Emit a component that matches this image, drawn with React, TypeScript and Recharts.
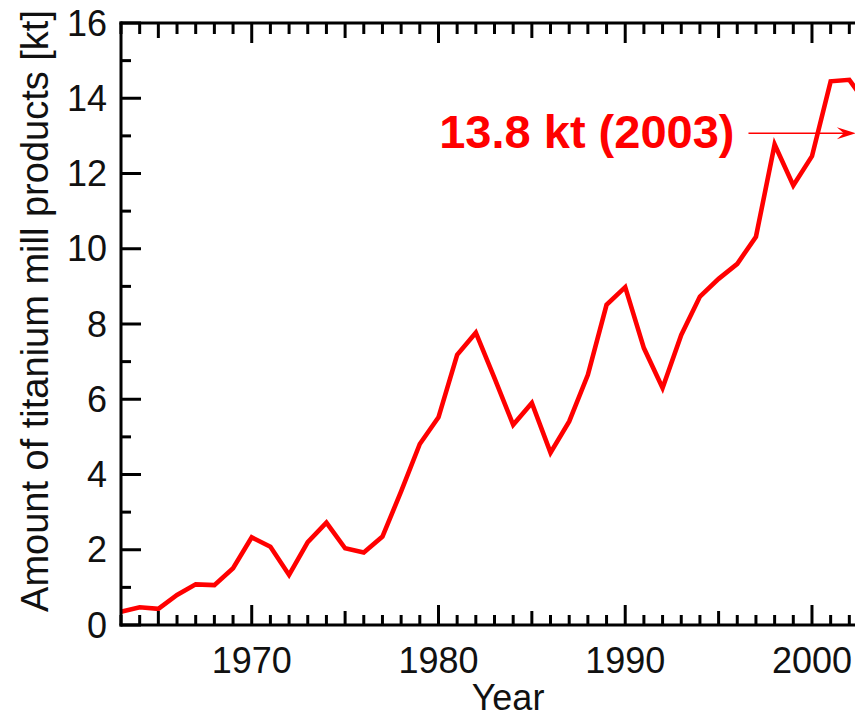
import React from 'react';
import { LineChart, Line, XAxis, YAxis, ReferenceLine, Label } from 'recharts';

// Titanium mill products, thousand tonnes per year
const years = [
  1963, 1964, 1965, 1966, 1967, 1968, 1969, 1970, 1971, 1972,
  1973, 1974, 1975, 1976, 1977, 1978, 1979, 1980, 1981, 1982,
  1983, 1984, 1985, 1986, 1987, 1988, 1989, 1990, 1991, 1992,
  1993, 1994, 1995, 1996, 1997, 1998, 1999, 2000, 2001, 2002, 2003,
];
const amounts = [
  0.35, 0.47, 0.43, 0.8, 1.08, 1.06, 1.51, 2.33, 2.08, 1.33,
  2.2, 2.72, 2.04, 1.93, 2.35, 3.55, 4.81, 5.52, 7.18, 7.77,
  6.56, 5.32, 5.9, 4.58, 5.41, 6.65, 8.51, 8.98, 7.36, 6.3,
  7.71, 8.73, 9.2, 9.6, 10.32, 12.77, 11.68, 12.46, 14.45, 14.49, 13.8,
];

const yearLabels = [1970, 1980, 1990, 2000];
const valueLabels = [0, 2, 4, 6, 8, 10, 12, 14, 16];
const yDomain = [0, 16];
const xDomain = [1963, 2003];

const noteYear = 2003;
const noteValue = 13.8;
const noteArrowLevel = 13.07;
const noteArrowFrom = 1996.6;
const noteArrowTo = 2002.35;

const data = years.map((year, i) => ({ year, v: amounts[i] }));
const yearTicks = years;
const valueTicks = Array.from({ length: yDomain[1] - yDomain[0] + 1 }, (_, i) => yDomain[0] + i);

const FONT = '"Liberation Sans", Arial, Helvetica, sans-serif';
const RED = '#ff0000';
const AXIS_W = 3;

const xTickLen = (yr: number) => (yr % 10 === 0 ? 20 : yr % 5 === 0 ? 14 : 10);
const yTickLen = (v: number) => (v % 2 === 0 ? 20 : 10);

const BottomTick = (p: any) => {
  const { x, y, payload } = p;
  const yr = payload.value;
  return (
    <g>
      <line x1={x} x2={x} y1={y} y2={y - xTickLen(yr)} stroke="#000" strokeWidth={AXIS_W} />
      {yearLabels.includes(yr) && (
        <text x={x} y={y + 47.5} textAnchor="middle" fontSize={36} fontFamily={FONT} fill="#111">
          {yr}
        </text>
      )}
    </g>
  );
};

const TopTick = (p: any) => {
  const { x, y, payload } = p;
  const yr = payload.value;
  const len = yr % 10 === 0 ? 20 : yr % 5 === 0 ? 15 : 11;
  return <line x1={x} x2={x} y1={y} y2={y + len} stroke="#000" strokeWidth={AXIS_W} />;
};

const LeftTick = (p: any) => {
  const { x, y, payload } = p;
  const v = payload.value;
  return (
    <g>
      <line x1={x} x2={x + yTickLen(v)} y1={y} y2={y} stroke="#000" strokeWidth={AXIS_W} />
      {valueLabels.includes(v) && (
        <text x={x - 14} y={y + 12.5} textAnchor="end" fontSize={36} fontFamily={FONT} fill="#111">
          {v}
        </text>
      )}
    </g>
  );
};

const RightTick = (p: any) => {
  const { x, y, payload } = p;
  const v = payload.value;
  return <line x1={x} x2={x - yTickLen(v)} y1={y} y2={y} stroke="#000" strokeWidth={AXIS_W} />;
};

const ArrowNote = (p: any) => {
  const { x1, y1, x2, y2 } = p;
  return (
    <g>
      <line x1={x1} y1={y1} x2={x2 - 8} y2={y2} stroke={RED} strokeWidth={1.6} />
      <polygon
        points={`${x2},${y2} ${x2 - 19},${y2 - 6} ${x2 - 12},${y2} ${x2 - 19},${y2 + 6}`}
        fill={RED}
      />
      <text
        x={x1 - 14}
        y={y1 + 15}
        textAnchor="end"
        fontSize={47}
        fontWeight="bold"
        fontFamily={FONT}
        fill={RED}
      >
        {`${noteValue} kt (${noteYear})`}
      </text>
    </g>
  );
};

export default function App() {
  return (
    <div
      style={{
        position: 'absolute',
        left: 0,
        top: 0,
        width: 855,
        height: 718,
        overflow: 'hidden',
        background: '#fff',
      }}
    >
      <LineChart width={900} height={718} data={data} margin={{ top: 0, right: 0, bottom: 0, left: 0 }}>
        <XAxis
          xAxisId="b"
          dataKey="year"
          type="number"
          domain={xDomain}
          ticks={yearTicks}
          interval={0}
          height={93}
          tickSize={0}
          tickMargin={0}
          tickLine={false}
          axisLine={{ stroke: '#000', strokeWidth: AXIS_W, strokeLinecap: 'square' }}
          tick={(p: any) => <BottomTick {...p} />}
        >
          <Label
            content={() => (
              <text x={508} y={710} textAnchor="middle" fontSize={36} fontFamily={FONT} fill="#111">
                Year
              </text>
            )}
          />
        </XAxis>
        <XAxis
          xAxisId="t"
          orientation="top"
          dataKey="year"
          type="number"
          domain={xDomain}
          ticks={yearTicks}
          interval={0}
          height={23}
          tickSize={0}
          tickMargin={0}
          tickLine={false}
          axisLine={{ stroke: '#000', strokeWidth: AXIS_W, strokeLinecap: 'square' }}
          tick={(p: any) => <TopTick {...p} />}
        />
        <YAxis
          yAxisId="l"
          orientation="left"
          type="number"
          domain={yDomain}
          ticks={valueTicks}
          interval={0}
          width={121}
          tickSize={0}
          tickMargin={0}
          tickLine={false}
          axisLine={{ stroke: '#000', strokeWidth: AXIS_W, strokeLinecap: 'square' }}
          tick={(p: any) => <LeftTick {...p} />}
        >
          <Label
            content={() => (
              <text
                x={47.5}
                y={311}
                transform="rotate(-90 47.5 311)"
                textAnchor="middle"
                fontSize={38}
                fontFamily={FONT}
                fill="#111"
              >
                Amount of titanium mill products [kt]
              </text>
            )}
          />
        </YAxis>
        <YAxis
          yAxisId="r"
          orientation="right"
          type="number"
          domain={yDomain}
          ticks={valueTicks}
          interval={0}
          width={32}
          tickSize={0}
          tickMargin={0}
          tickLine={false}
          axisLine={{ stroke: '#000', strokeWidth: AXIS_W, strokeLinecap: 'square' }}
          tick={(p: any) => <RightTick {...p} />}
        />
        <Line
          xAxisId="b"
          yAxisId="l"
          dataKey="v"
          type="linear"
          stroke={RED}
          strokeWidth={4.6}
          dot={false}
          activeDot={false}
          isAnimationActive={false}
        />
        <ReferenceLine
          xAxisId="b"
          yAxisId="l"
          segment={[
            { x: noteArrowFrom, y: noteArrowLevel },
            { x: noteArrowTo, y: noteArrowLevel },
          ]}
          shape={(p: any) => <ArrowNote {...p} />}
        />
      </LineChart>
    </div>
  );
}
